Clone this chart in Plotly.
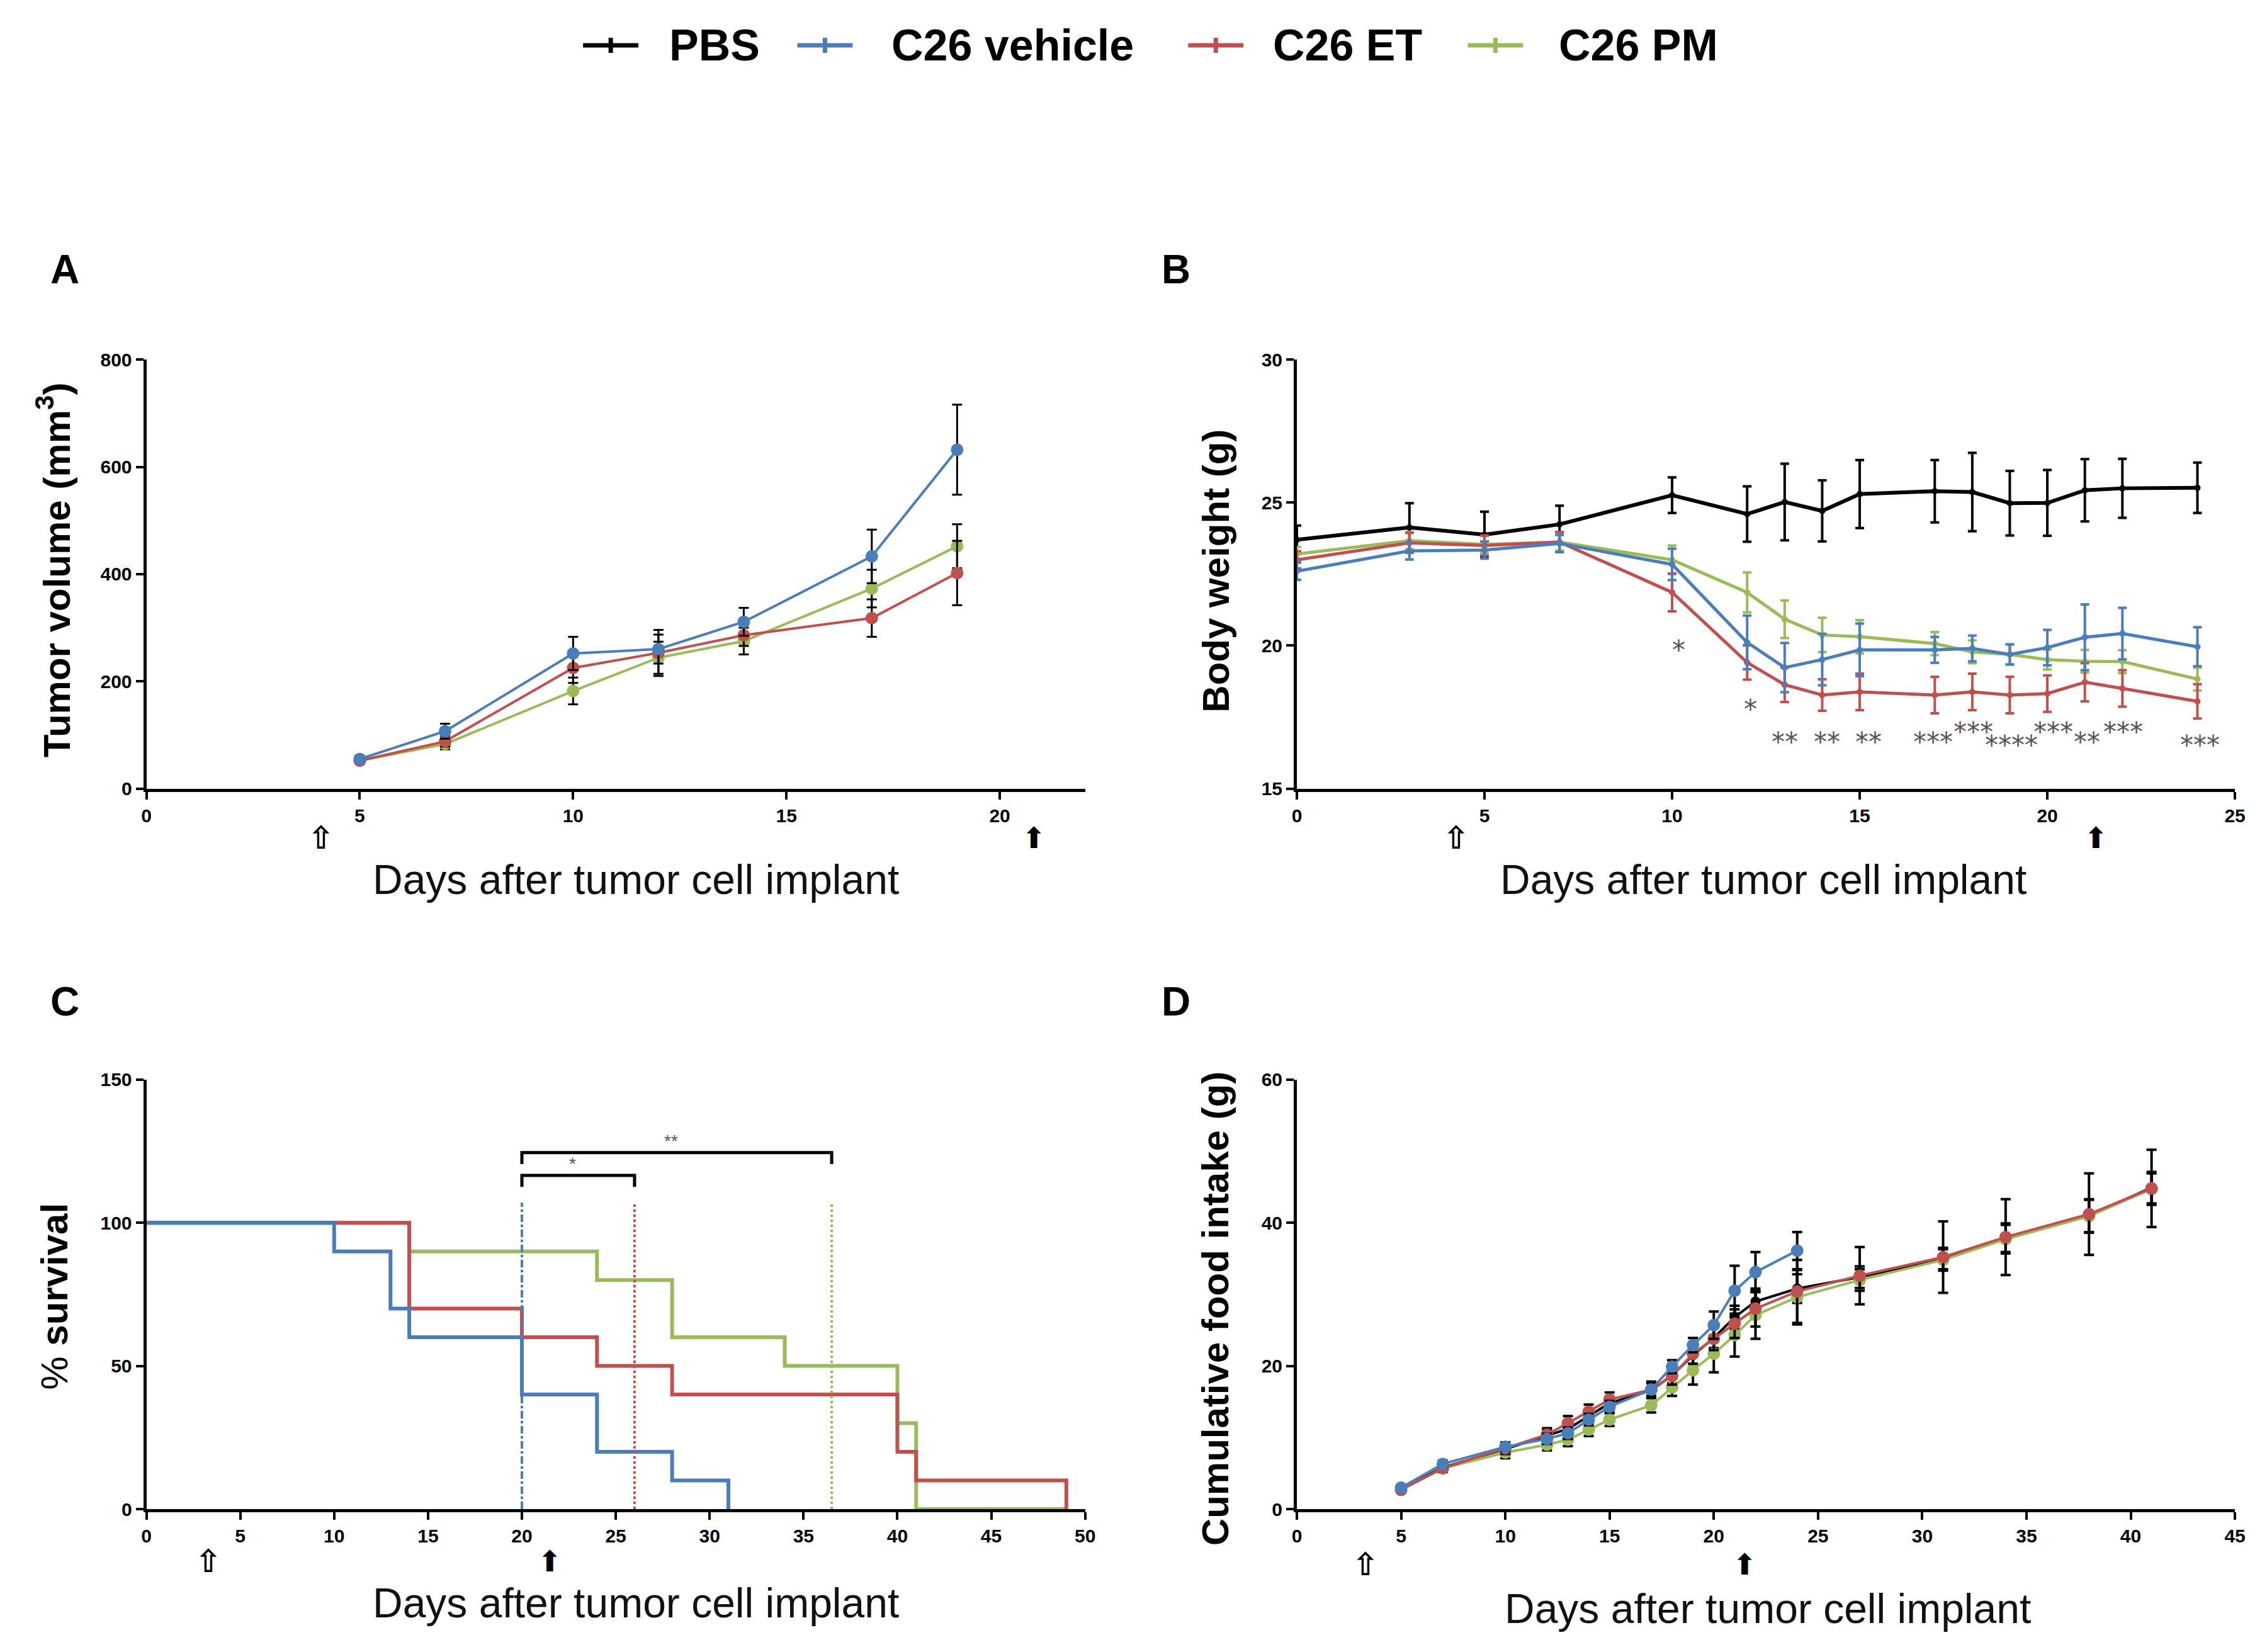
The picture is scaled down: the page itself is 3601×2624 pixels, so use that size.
import plotly.graph_objects as go

W, H = 3601, 2624

BLACK = "#000000"
BLUE = "#4a7ebb"
RED = "#c0504d"
GREEN = "#9bbb59"
STAR_GRAY = "#555555"

SANS = "Liberation Sans, Arial, sans-serif"
NARROW = "Liberation Sans Narrow, Arial Narrow, Liberation Sans, sans-serif"

groups = ["PBS", "C26 vehicle", "C26 ET", "C26 PM"]
group_colors = [BLACK, BLUE, RED, GREEN]

# ---- A: tumor volume (mm3) ----
tv_days = [5, 7, 10, 12, 14, 17, 19]
tv_vehicle = [55, 107, 252, 260, 311, 433, 632]
tv_vehicle_err = [6, 14, 31, 27, 26, 50, 84]
tv_et = [52, 88, 225, 253, 286, 318, 402]
tv_et_err = [5, 10, 28, 43, 20, 35, 60]
tv_pm = [52, 83, 182, 244, 275, 373, 452]
tv_pm_err = [5, 10, 25, 30, 25, 35, 41]

# ---- B: body weight (g) ----
bw_days = [0, 3, 5, 7, 10, 12, 13, 14, 15, 17, 18, 19, 20, 21, 22, 24]
bw_pbs = [23.7, 24.13, 23.88, 24.24, 25.26, 24.6, 25.02, 24.71, 25.3, 25.4, 25.37, 24.98, 24.99, 25.43, 25.5, 25.52]
bw_pbs_err = [0.5, 0.85, 0.8, 0.65, 0.62, 0.97, 1.34, 1.07, 1.19, 1.09, 1.37, 1.13, 1.15, 1.09, 1.03, 0.88]
bw_vehicle = [22.6, 23.31, 23.34, 23.57, 22.84, 20.11, 19.23, 19.51, 19.85, 19.85, 19.9, 19.69, 19.93, 20.29, 20.42, 19.96]
bw_vehicle_err = [0.3, 0.3, 0.3, 0.3, 0.55, 0.94, 0.86, 0.9, 0.92, 0.45, 0.45, 0.35, 0.62, 1.15, 0.9, 0.68]
bw_et = [23.0, 23.59, 23.5, 23.62, 21.86, 19.41, 18.63, 18.27, 18.38, 18.27, 18.38, 18.27, 18.32, 18.72, 18.5, 18.05]
bw_et_err = [0.3, 0.35, 0.35, 0.35, 0.66, 0.6, 0.6, 0.55, 0.64, 0.64, 0.64, 0.64, 0.64, 0.67, 0.64, 0.6]
bw_pm = [23.2, 23.67, 23.54, 23.62, 23.0, 21.86, 20.92, 20.37, 20.31, 20.07, 19.78, 19.69, 19.51, 19.45, 19.44, 18.83]
bw_pm_err = [0.25, 0.3, 0.3, 0.3, 0.5, 0.7, 0.66, 0.6, 0.58, 0.4, 0.4, 0.35, 0.35, 0.4, 0.4, 0.4]

# significance marks in B
star_days = [10.18, 12.09, 13.0, 14.12, 15.24, 16.95, 18.03, 19.05, 20.16, 21.05, 22.02, 24.06]
star_levels = [19.95, 17.88, 16.73, 16.73, 16.73, 16.73, 17.08, 16.61, 17.08, 16.73, 17.08, 16.61]
star_texts = ["*", "*", "**", "**", "**", "***", "***", "****", "***", "**", "***", "***"]

# ---- C: survival (%) ----
surv_vehicle_days = [0, 10, 13, 14, 20, 24, 28, 31]
surv_vehicle = [100, 90, 70, 60, 40, 20, 10, 0]
surv_et_days = [0, 14, 20, 24, 28, 40, 41, 49]
surv_et = [100, 70, 60, 50, 40, 20, 10, 0]
surv_pm_days = [0, 14, 24, 28, 34, 40, 41, 49]
surv_pm = [100, 90, 80, 60, 50, 30, 0, 0]
median_days = [20, 26, 36.5]
bracket_ends = [26, 36.5]
bracket_levels = [116.5, 124.5]
bracket_texts = ["*", "**"]

# ---- D: cumulative food intake (g) ----
fi_days = [5, 7, 10, 12, 13, 14, 15, 17, 18, 19, 20, 21, 22, 24, 27, 31, 34, 38, 41]
fi_pbs = [2.8, 5.8, 8.4, 10.3, 11.2, 13.0, 14.8, 16.6, 18.7, 21.5, 23.9, 26.8, 29.0, 30.8, 32.4, 35.0, 37.9, 41.0, 44.9]
fi_pbs_err = [0.3, 0.4, 0.6, 0.8, 0.8, 0.9, 0.9, 1.0, 1.1, 1.2, 1.4, 1.6, 1.8, 2.0, 1.5, 1.5, 2.0, 2.3, 2.2]
fi_vehicle_days = [5, 7, 10, 12, 13, 14, 15, 17, 18, 19, 20, 21, 22, 24]
fi_vehicle = [3.0, 6.3, 8.7, 9.8, 10.6, 12.5, 14.3, 16.7, 19.9, 22.9, 25.7, 30.5, 33.1, 36.1]
fi_vehicle_err = [0.3, 0.5, 0.6, 0.7, 0.8, 0.8, 0.8, 0.9, 0.9, 1.0, 1.9, 3.5, 2.8, 2.6]
fi_et = [2.7, 5.7, 8.5, 10.4, 12.0, 13.6, 15.3, 16.7, 18.6, 21.7, 23.8, 25.9, 28.0, 30.4, 32.6, 35.2, 38.0, 41.2, 44.8]
fi_et_err = [0.3, 0.5, 0.8, 0.9, 1.0, 1.0, 1.0, 1.1, 1.2, 1.4, 1.6, 2.0, 2.5, 4.4, 4.0, 5.0, 5.3, 5.7, 5.4]
fi_pm = [2.7, 5.7, 7.9, 9.0, 9.7, 11.1, 12.5, 14.5, 17.0, 19.4, 21.7, 24.3, 27.1, 29.6, 32.0, 34.8, 37.7, 40.9, 44.7]
fi_pm_err = [0.3, 0.5, 0.8, 0.8, 0.9, 0.9, 0.9, 1.0, 1.2, 2.0, 2.6, 3.0, 3.3, 3.8, 1.5, 1.5, 2.0, 2.3, 2.2]

# treatment start (hollow) / end (filled) arrows per panel
arrow_open_days = [4.1, 4.25, 3.3, 3.3]
arrow_fill_days = [20.8, 21.3, 21.5, 21.5]


# reference pixel -> paper fraction (small correction for page offset)
def px(x):
    return (x - 17) / 0.995 / W


def py(y):
    return 1 - (y - 26) / 0.987 / H


fig = go.Figure()


def mean_trace(x, y, err, name, color, xa, ya, msize, lw, ecolor, ethick, ewidth):
    fig.add_trace(go.Scatter(
        x=x, y=y, name=name, mode="lines+markers",
        line=dict(color=color, width=lw),
        marker=dict(color=color, size=msize, symbol="circle"),
        error_y=dict(type="data", array=err, visible=True, color=ecolor,
                     thickness=ethick, width=ewidth),
        xaxis=xa, yaxis=ya, showlegend=False, cliponaxis=False,
    ))


# A
mean_trace(tv_days, tv_pm, tv_pm_err, "C26 PM", GREEN, "x", "y", 20, 4, BLACK, 3, 8)
mean_trace(tv_days, tv_et, tv_et_err, "C26 ET", RED, "x", "y", 20, 4, BLACK, 3, 8)
mean_trace(tv_days, tv_vehicle, tv_vehicle_err, "C26 vehicle", BLUE, "x", "y", 20, 4, BLACK, 3, 8)

# B
mean_trace(bw_days, bw_pbs, bw_pbs_err, "PBS", BLACK, "x2", "y2", 10, 6, BLACK, 4, 7)
mean_trace(bw_days, bw_pm, bw_pm_err, "C26 PM", GREEN, "x2", "y2", 10, 5, GREEN, 4, 7)
mean_trace(bw_days, bw_et, bw_et_err, "C26 ET", RED, "x2", "y2", 10, 5, RED, 4, 7)
mean_trace(bw_days, bw_vehicle, bw_vehicle_err, "C26 vehicle", BLUE, "x2", "y2", 10, 5, BLUE, 4, 7)

# C survival steps
for xs, ys, name, color in [(surv_pm_days, surv_pm, "C26 PM", GREEN),
                            (surv_et_days, surv_et, "C26 ET", RED),
                            (surv_vehicle_days, surv_vehicle, "C26 vehicle", BLUE)]:
    fig.add_trace(go.Scatter(
        x=xs, y=ys, name=name, mode="lines", line=dict(color=color, width=6, shape="hv"),
        xaxis="x3", yaxis="y3", showlegend=False, cliponaxis=False,
    ))

# D
mean_trace(fi_days, fi_pbs, fi_pbs_err, "PBS", BLACK, "x4", "y4", 16, 4, BLACK, 4, 8)
mean_trace(fi_days, fi_pm, fi_pm_err, "C26 PM", GREEN, "x4", "y4", 20, 4, BLACK, 4, 8)
mean_trace(fi_days, fi_et, fi_et_err, "C26 ET", RED, "x4", "y4", 20, 4, BLACK, 4, 8)
mean_trace(fi_vehicle_days, fi_vehicle, fi_vehicle_err, "C26 vehicle", BLUE, "x4", "y4", 20, 4, BLACK, 4, 8)


def axis(domain, rng, dtick, anchor, tick0=0):
    return dict(
        domain=domain, range=rng, dtick=dtick, tick0=tick0, anchor=anchor,
        showline=True, linecolor=BLACK, linewidth=5, ticks="outside",
        ticklen=12, tickwidth=4, tickcolor=BLACK, showgrid=False, zeroline=False,
        tickfont=dict(family=NARROW, size=30, color=BLACK, weight="bold"),
        fixedrange=True,
    )


left_x = [px(234), px(1728)]
right_x = [px(2065), px(3558)]
top_y = [py(1254), py(573)]
bot_y = [py(2398), py(1716)]

fig.update_layout(
    xaxis=axis(left_x, [0, 22], 5, "y"),
    yaxis=axis(top_y, [0, 800], 200, "x"),
    xaxis2=axis(right_x, [0, 25], 5, "y2"),
    yaxis2=axis(top_y, [15, 30], 5, "x2", 15),
    xaxis3=axis(left_x, [0, 50], 5, "y3"),
    yaxis3=axis(bot_y, [0, 150], 50, "x3"),
    xaxis4=axis(right_x, [0, 45], 5, "y4"),
    yaxis4=axis(bot_y, [0, 60], 20, "x4"),
)

ann = []
shapes = []


def text_at(text, x, y, size, family=SANS, color=BLACK, angle=0, xref="paper", yref="paper", xanchor="center"):
    ann.append(dict(text=text, x=x, y=y, xref=xref, yref=yref, xanchor=xanchor, yanchor="middle",
                    textangle=angle, showarrow=False, font=dict(family=family, size=size, color=color)))


# legend across the top: line with a small cross, then the bold name
legend_line_left = [929, 1270, 1892, 2337]
legend_text_left = [1064, 1418, 2025, 2480]
for name, color, x0, tx in zip(groups, group_colors, legend_line_left, legend_text_left):
    shapes.append(dict(type="line", xref="paper", yref="paper", x0=px(x0), x1=px(x0 + 88),
                       y0=py(74), y1=py(74), line=dict(color=color, width=7)))
    shapes.append(dict(type="line", xref="paper", yref="paper", x0=px(x0 + 44), x1=px(x0 + 44),
                       y0=py(62), y1=py(86), line=dict(color=color, width=7)))
    text_at("<b>" + name + "</b>", px(tx), py(74), 70, xanchor="left")

# panel letters
for letter, (lx, ly) in zip("ABCD", [(104, 430), (1873, 430), (104, 1592), (1873, 1592)]):
    text_at("<b>" + letter + "</b>", px(lx), py(ly), 64)

# x titles
for cx, cy in [(1013, 1398), (2807, 1398), (1013, 2547), (2814, 2556)]:
    text_at("Days after tumor cell implant", px(cx), py(cy), 66, color="#111111")

# y titles
for txt, cx, cy in [("<b>Tumor volume (mm<sup>3</sup>)</b>", 87, 907),
                    ("<b>Body weight (g)</b>", 1936, 908),
                    ("% <b>survival</b>", 88, 2060),
                    ("<b>Cumulative food intake (g)</b>", 1936, 2080)]:
    text_at(txt, px(cx), py(cy), 60, angle=-90)

# treatment arrows
arrow_y = [1332, 1332, 2481, 2486]
for xa, d0, d1, ay in zip(["x", "x2", "x3", "x4"], arrow_open_days, arrow_fill_days, arrow_y):
    text_at("<b>⇧</b>", d0, py(ay), 50, family="DejaVu Sans", xref=xa)
    text_at("⬆", d1, py(ay), 46, family="DejaVu Sans", xref=xa)

# significance stars (B)
for d, lv, t in zip(star_days, star_levels, star_texts):
    text_at(t, d, lv - 0.1, 42, family="DejaVu Sans", color=STAR_GRAY, xref="x2", yref="y2")

# bracket labels (C)
for end, lv, t in zip(bracket_ends, bracket_levels, bracket_texts):
    text_at(t, (median_days[0] + end) / 2 - 0.3, lv + 4, 28, color=STAR_GRAY, xref="x3", yref="y3")

for d, color, dash in zip(median_days, [BLUE, RED, GREEN], ["dashdot", "dot", "dot"]):
    shapes.append(dict(type="line", xref="x3", yref="y3", x0=d, x1=d, y0=0, y1=107,
                       line=dict(color=color, width=4, dash=dash)))
for end, lv in zip(bracket_ends, bracket_levels):
    shapes.append(dict(type="path", xref="x3", yref="y3",
                       path=f"M {median_days[0]},{lv - 4} L {median_days[0]},{lv} L {end},{lv} L {end},{lv - 4}",
                       line=dict(color=BLACK, width=5)))

fig.update_layout(
    width=W, height=H,
    margin=dict(l=0, r=0, t=0, b=0),
    paper_bgcolor="white", plot_bgcolor="white",
    annotations=ann, shapes=shapes,
    showlegend=False,
)

fig.write_html("out.html")
